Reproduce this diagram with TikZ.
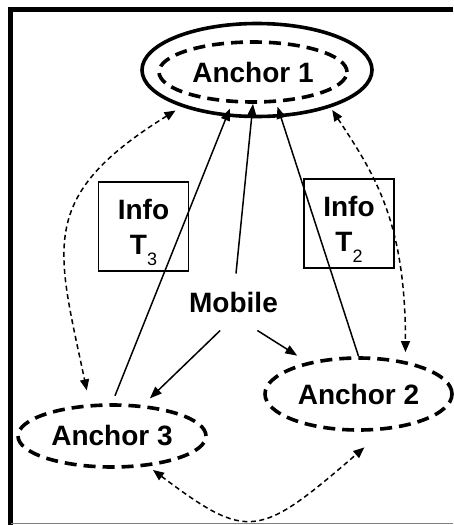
\documentclass[tikz,border=0pt]{standalone}
\usepackage{fontspec}
\setmainfont{Liberation Sans}
\usepackage{tikz}
\usetikzlibrary{
  arrows.meta, shapes.geometric
}
\newcommand{\infosub}[1]{\raisebox{-11pt}[0pt][0pt]{\fontsize{18}{18}\selectfont\mdseries #1}}

\begin{document}
\begin{tikzpicture}[x=1pt,y=-1pt,
    dashell/.style={ellipse,draw,line width=3.6pt,dash pattern=on 12pt off 7pt,inner sep=0pt,font=\fontsize{28}{30}\selectfont\bfseries},
    infobox/.style={rectangle,draw,line width=1.3pt,minimum width=90pt,minimum height=89pt,align=center,font=\fontsize{28}{35}\selectfont\bfseries},
    link/.style={line width=1.5pt,-{Triangle[length=12pt,width=9pt]}},
    peerlink/.style={line width=1.5pt,dash pattern=on 5pt off 3.5pt,{Triangle[length=11pt,width=9pt]}-{Triangle[length=11pt,width=9pt]}}]
      \useasboundingbox (0,0) rectangle (453,525);
      \draw[line width=4.3pt] (10.5,525) -- (10.5,9.5) -- (453,9.5);
      \draw[gray,line width=1.5pt] (10.5,523.3) -- (453,523.3);
      \node at (257,70) [ellipse,draw,line width=3.6pt,minimum width=230pt,minimum height=93pt] (a1) {};
      \node at (253,72) [dashell,minimum width=188pt,minimum height=60pt] (a1in) {Anchor 1};
      \node at (358.5,394) [dashell,minimum width=187pt,minimum height=72pt] (a2) {Anchor 2};
      \node at (112,436) [dashell,minimum width=188pt,minimum height=62pt] (a3) {Anchor 3};
      \node at (233.5,302) [inner sep=18pt,font=\fontsize{28}{30}\selectfont\bfseries] (mob) {Mobile};
      \node at (143.5,226.5) [infobox] (i3) {Info\\T\infosub{3}};
      \node at (349,223.5) [infobox] (i2) {Info\\T\infosub{2}};
      \draw[link] (mob.85) -- (a1in.south);
      \draw[link,shorten <=8pt,shorten >=6pt] (a3.north) -- (a1in.236);
      \draw[link,shorten >=4pt] (a2.north) -- (a1in.307);
      \draw[link,shorten >=9.5pt] (mob.-115) -- (a3.45);
      \draw[link,shorten >=12pt] (mob.-50) -- (a2.148);
      \draw[peerlink,shorten <=7pt,shorten >=14pt] (a1.206) .. controls +(-145,90) and +(-33,-157) .. (a3.125);
      \draw[peerlink,shorten <=3pt,shorten >=9pt] (a1.333) .. controls +(44,67) and +(0,-140) .. (a2.35);
      \draw[peerlink,shorten <=6pt,shorten >=26pt] (a3.-40) .. controls +(100,75) and +(-125,108) .. (a2.-55);
\end{tikzpicture}
\end{document}
